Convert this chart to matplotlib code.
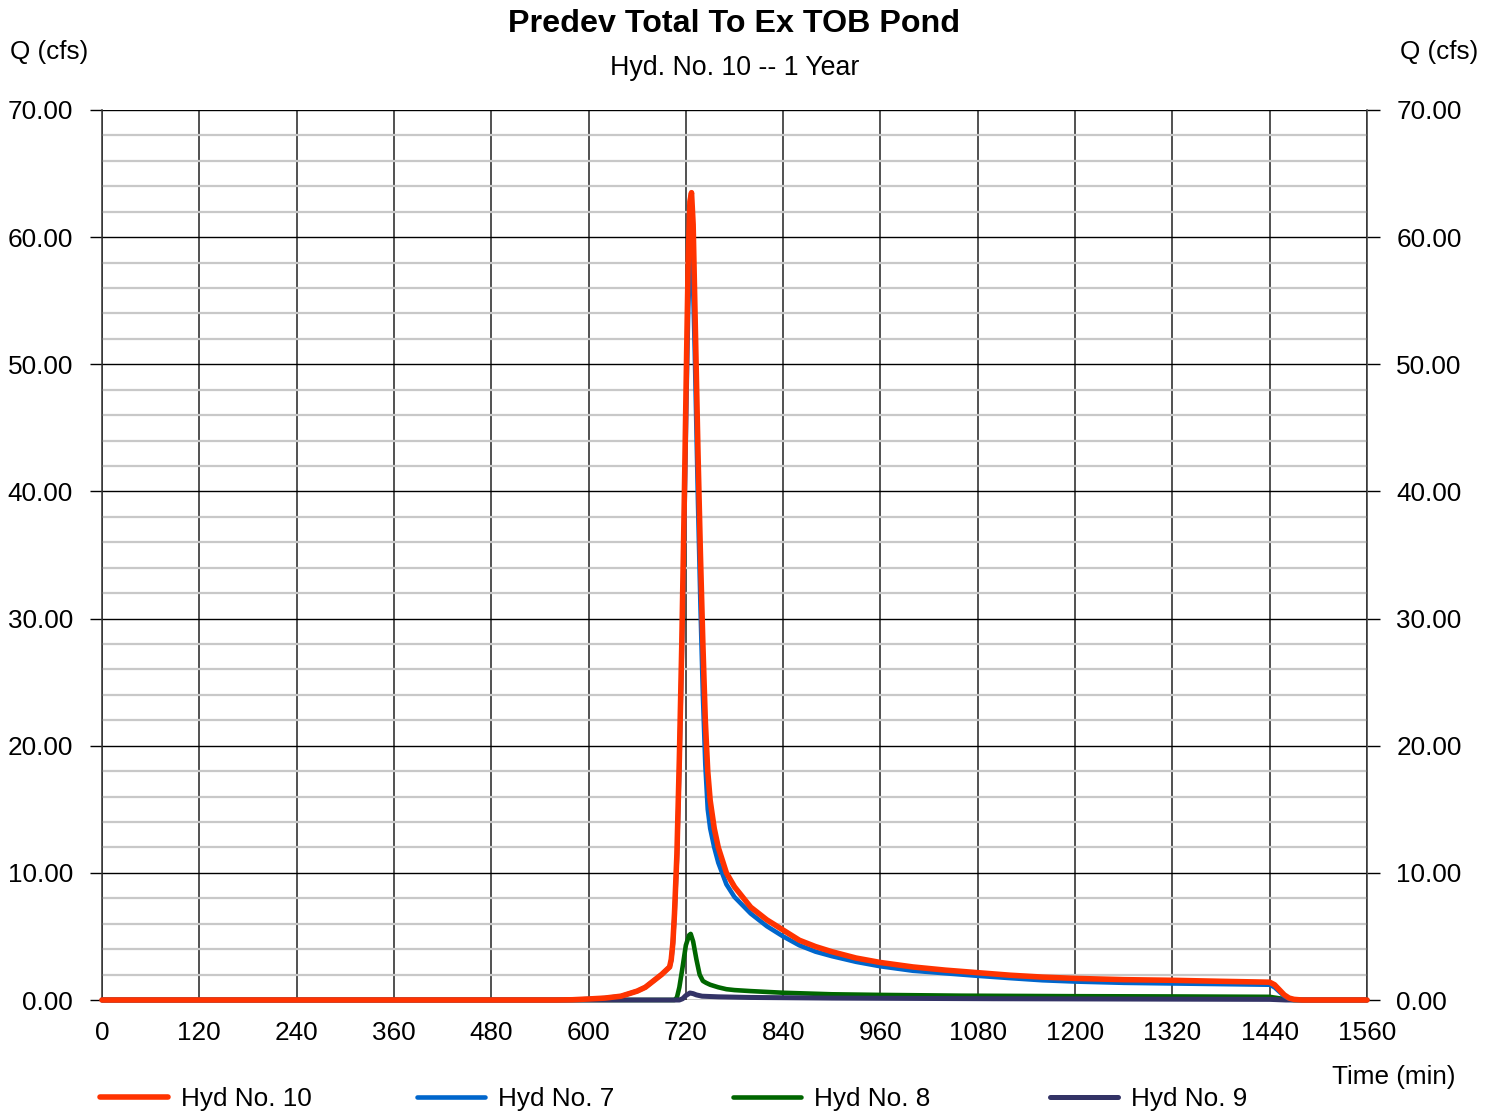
import matplotlib
matplotlib.use("Agg")
import matplotlib.pyplot as plt
from matplotlib.ticker import MultipleLocator, FormatStrFormatter

plt.rcParams['font.family'] = ['Liberation Sans', 'DejaVu Sans']

# ---------------- data ----------------
t_red = [0, 560, 580, 600, 620, 640, 660, 670, 680, 690, 695, 700, 702, 704, 706, 709, 712, 715,
         718, 721, 723, 725, 727, 729, 731, 733, 735, 738, 741, 744, 747, 750, 755, 760,
         770, 780, 800, 820, 840, 860, 880, 900, 930, 960, 1000, 1040, 1080, 1120, 1160,
         1200, 1260, 1320, 1380, 1440, 1446, 1452, 1458, 1464, 1470, 1480, 1560]
q_red = [0, 0, 0.02, 0.08, 0.15, 0.3, 0.7, 1.0, 1.5, 2.0, 2.3, 2.6, 3.2, 4.5, 6.8, 11.5, 19.0, 28.0,
         39.0, 51.0, 58.5, 62.8, 63.5, 61.0, 55.0, 49.0, 43.0, 35.0, 28.0, 22.0, 18.0, 15.7, 13.5, 12.0,
         10.0, 8.9, 7.3, 6.3, 5.5, 4.7, 4.2, 3.8, 3.3, 2.95, 2.6, 2.35, 2.15, 1.95, 1.8,
         1.7, 1.6, 1.55, 1.47, 1.4, 1.2, 0.8, 0.4, 0.15, 0.05, 0.0, 0.0]

t_blue = t_red
q_blue = [0, 0, 0.02, 0.08, 0.15, 0.3, 0.7, 1.0, 1.5, 2.0, 2.3, 2.6, 3.1, 4.4, 6.6, 11.0, 18.3, 27.0,
          37.0, 48.0, 54.5, 57.8, 58.5, 56.0, 51.0, 45.0, 39.0, 31.0, 24.0, 18.5, 15.0, 13.5, 12.0, 10.8,
          9.1, 8.1, 6.8, 5.8, 5.0, 4.3, 3.8, 3.45, 3.0, 2.65, 2.3, 2.1, 1.9, 1.72, 1.55,
          1.45, 1.35, 1.3, 1.25, 1.2, 1.0, 0.65, 0.3, 0.1, 0.03, 0.0, 0.0]

t_green = [0, 706, 709, 712, 716, 720, 724, 726, 729, 733, 737, 741, 745, 750, 760, 770, 780,
           800, 840, 900, 960, 1060, 1200, 1320, 1440, 1450, 1460, 1470, 1560]
q_green = [0, 0, 0.2, 1.0, 2.6, 4.3, 5.1, 5.2, 4.6, 3.2, 2.0, 1.5, 1.35, 1.2, 1.0, 0.85, 0.78,
           0.7, 0.57, 0.45, 0.4, 0.34, 0.3, 0.28, 0.25, 0.15, 0.05, 0.0, 0.0]

t_navy = [0, 712, 716, 720, 725, 729, 733, 740, 760, 800, 900, 1100, 1300, 1440, 1460, 1560]
q_navy = [0, 0, 0.1, 0.35, 0.55, 0.5, 0.4, 0.3, 0.25, 0.2, 0.15, 0.1, 0.07, 0.05, 0.0, 0.0]

labels = ["Hyd No. 10", "Hyd No. 7", "Hyd No. 8", "Hyd No. 9"]
colors = ["#FF3300", "#0066CC", "#006600", "#333366"]

x_ticks = [0, 120, 240, 360, 480, 600, 720, 840, 960, 1080, 1200, 1320, 1440, 1560]

# ---------------- figure ----------------
W, H = 1496, 1112
fig = plt.figure(figsize=(W / 100, H / 100), dpi=100)
ax = fig.add_axes([102 / W, 1 - 1000 / H, (1367 - 102) / W, (1000 - 110) / H])

FS = 18.8
ax.set_xlim(0, 1560)
ax.set_ylim(0, 70)
ax.set_xticks(x_ticks)
ax.yaxis.set_major_locator(MultipleLocator(10))
ax.yaxis.set_minor_locator(MultipleLocator(2))
ax.yaxis.set_major_formatter(FormatStrFormatter('%.2f'))

ax.grid(which='minor', axis='y', color='#c8c8c8', lw=1.6, zorder=0)
ax.grid(which='major', axis='y', color='black', lw=1.0, zorder=0.5)
ax.grid(which='major', axis='x', color='#222222', lw=1.1, zorder=0.5)
ax.set_axisbelow(True)

ax.tick_params(axis='x', which='both', length=0, pad=15, labelsize=FS)
ax.tick_params(axis='y', which='major', length=9, width=1.0, direction='out',
               pad=12, labelsize=FS, left=True, right=True, labelleft=True, labelright=True)
ax.tick_params(axis='y', which='minor', length=0, left=False, right=False)

for s in ['top', 'bottom']:
    ax.spines[s].set_visible(False)
for s in ['left', 'right']:
    ax.spines[s].set_color('#333333')
    ax.spines[s].set_linewidth(1.1)

l_green, = ax.plot(t_green, q_green, color=colors[2], lw=3.3, zorder=3, clip_on=False,
                   solid_capstyle='round', solid_joinstyle='round')
l_navy, = ax.plot(t_navy, q_navy, color=colors[3], lw=3.6, zorder=3.5, clip_on=False,
                  solid_capstyle='round', solid_joinstyle='round')
l_blue, = ax.plot(t_blue, q_blue, color=colors[1], lw=3.3, zorder=4, clip_on=False,
                  solid_capstyle='round', solid_joinstyle='round')
l_red, = ax.plot(t_red, q_red, color=colors[0], lw=4.0, zorder=5, clip_on=False,
                 solid_capstyle='round', solid_joinstyle='round')

handles = [l_red, l_blue, l_green, l_navy]
leg_x = [100, 417, 733, 1050]
for h, lab, xp in zip(handles, labels, leg_x):
    fig.legend([h], [lab], loc='center left', bbox_to_anchor=(xp / W, 1 - 1099 / H),
               frameon=False, fontsize=FS, handlelength=2.6, handletextpad=0.5,
               borderpad=0, borderaxespad=0)

cx = (102 + 1367) / 2 / W
fig.text(cx, 1 - 24 / H, "Predev Total To Ex TOB Pond", ha='center', va='center',
         fontsize=23.2, fontweight='bold')
fig.text(cx, 1 - 68 / H, "Hyd. No. 10 -- 1 Year", ha='center', va='center', fontsize=19.3)
fig.text(10 / W, 1 - 52 / H, "Q (cfs)", ha='left', va='center', fontsize=FS)
fig.text(1478 / W, 1 - 52 / H, "Q (cfs)", ha='right', va='center', fontsize=FS)
fig.text(1456 / W, 1 - 1077 / H, "Time (min)", ha='right', va='center', fontsize=FS)

fig.savefig("out.png", dpi=100)
